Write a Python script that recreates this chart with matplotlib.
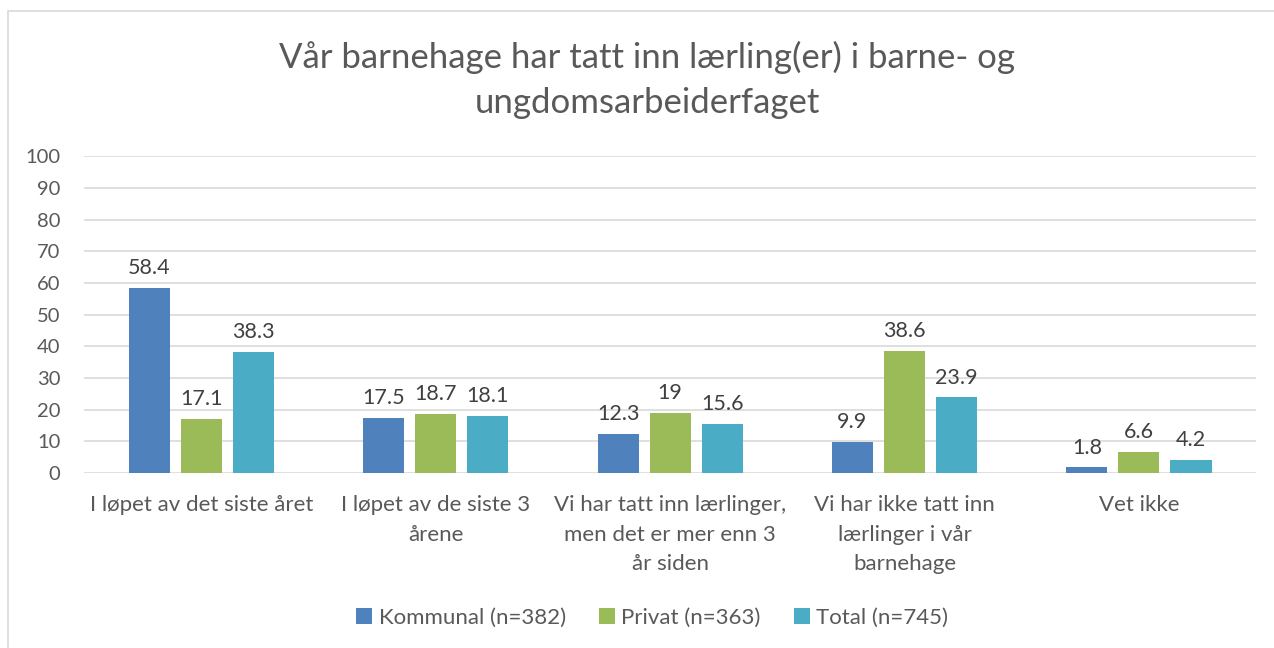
import numpy as np
import matplotlib.pyplot as plt
from matplotlib.patches import Rectangle

plt.rcParams['font.family'] = ['Lato', 'DejaVu Sans']

# data
categories = ["I løpet av det siste året",
              "I løpet av de siste 3\nårene",
              "Vi har tatt inn lærlinger,\nmen det er mer enn 3\når siden",
              "Vi har ikke tatt inn\nlærlinger i vår\nbarnehage",
              "Vet ikke"]
kommunal = [58.4, 17.5, 12.3, 9.9, 1.8]
privat = [17.1, 18.7, 19, 38.6, 6.6]
total = [38.3, 18.1, 15.6, 23.9, 4.2]
series_names = ["Kommunal (n=382)", "Privat (n=363)", "Total (n=745)"]
colors = ["#4F81BD", "#9BBB59", "#4BACC6"]
text_col = "#595959"

fig = plt.figure(figsize=(12.74, 6.48), dpi=100)
ax = fig.add_axes([0.066, 0.27, 0.92, 0.489])

# chart-area border like the office export
fig.patches.append(Rectangle((8 / 1274, -0.1), 1.2, 1 - 11 / 648 + 0.1, transform=fig.transFigure,
                             fill=False, edgecolor="#D9D9D9", linewidth=1.2))

x = np.arange(len(categories))
w = 0.175
step = 0.222
for i, (vals, name, c) in enumerate(zip([kommunal, privat, total], series_names, colors)):
    pos = x + (i - 1) * step
    ax.bar(pos, vals, width=w, color=c, label=name, zorder=3)
    for xp, v in zip(pos, vals):
        ax.annotate('%g' % v, (xp, v), xytext=(0, 7), textcoords="offset points",
                    ha="center", va="bottom", fontsize=15.5, color="#404040")

ax.set_xlim(-0.5, len(categories) - 0.5)
ax.set_ylim(0, 100)
ax.set_yticks(range(0, 101, 10))
ax.yaxis.grid(True, color="#D9D9D9", linewidth=1.2, zorder=0)
ax.set_axisbelow(True)
for s in ax.spines.values():
    s.set_visible(False)
ax.tick_params(axis="y", length=0, labelsize=14.5, labelcolor=text_col, pad=17)
ax.tick_params(axis="x", length=0, labelsize=16, labelcolor=text_col, pad=16)
ax.set_xticks(x)
ax.set_xticklabels(categories, linespacing=1.58)

fig.text(0.508, 0.876, "Vår barnehage har tatt inn lærling(er) i barne- og\nungdomsarbeiderfaget",
         ha="center", va="center", fontsize=25, color=text_col, linespacing=1.5)

fig.legend(loc="center", bbox_to_anchor=(0.512, 0.047), ncol=3, frameon=False,
           fontsize=16, handlelength=0.7, handleheight=0.7, handletextpad=0.3,
           columnspacing=1.5, labelcolor=text_col)

fig.savefig("out.png", dpi=100)
